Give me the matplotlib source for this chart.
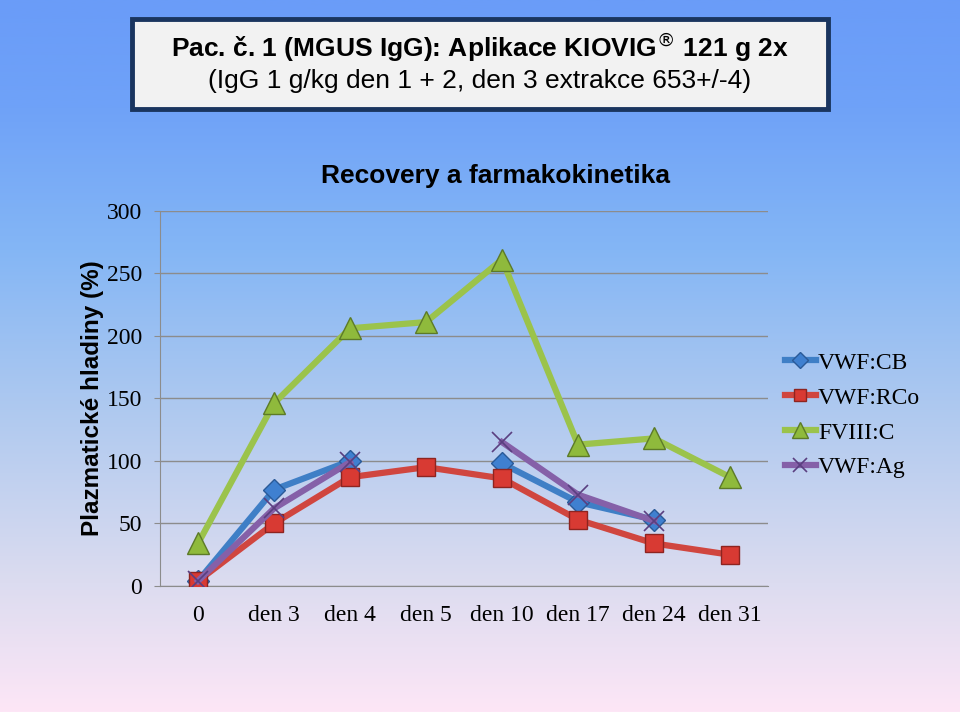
import matplotlib.pyplot as plt
import numpy as np
from matplotlib.colors import LinearSegmentedColormap
from matplotlib.patches import Rectangle

days = ['0', 'den 3', 'den 4', 'den 5', 'den 10', 'den 17', 'den 24', 'den 31']

vwf_cb = [4, 77, 100, None, 98, 67, 53, None]
vwf_rco = [4, 50, 87, 95, 86, 53, 34, 25]
fviii_c = [34, 146, 206, 211, 261, 113, 118, 87]
vwf_ag = [4, 62, 99, None, 115, 73, 52, None]


def to_arr(vals):
    return np.array([np.nan if v is None else v for v in vals], dtype=float)


def draw_chart():
    plt.rcParams['font.family'] = ['Liberation Serif', 'DejaVu Serif']
    fig = plt.figure(figsize=(9.6, 7.12), dpi=100)

    # background gradient
    bg = fig.add_axes([0, 0, 1, 1], zorder=-10)
    cmap = LinearSegmentedColormap.from_list('bg', [
        (0.0, '#6a9cf8'), (0.15, '#6fa2f8'), (0.35, '#84b6f5'),
        (0.6, '#b3cbef'), (0.82, '#dcdcf0'), (1.0, '#fde6f6')])
    grad = np.linspace(0, 1, 256).reshape(-1, 1)
    bg.imshow(grad, aspect='auto', cmap=cmap, extent=[0, 1, 0, 1])
    bg.axis('off')

    # title box
    fig.patches.append(Rectangle((0.137, 0.847), 0.725, 0.127, transform=fig.transFigure,
                                 facecolor='#f2f2f2', edgecolor='#1a355f', linewidth=3.5, zorder=1))
    fig.text(0.5, 0.933, 'Pac. č. 1 (MGUS IgG): Aplikace KIOVIG$^{®}$ 121 g 2x',
             ha='center', va='center', fontsize=19, fontweight='bold', family='Liberation Sans')
    fig.text(0.5, 0.886, '(IgG 1 g/kg den 1 + 2, den 3 extrakce 653+/-4)',
             ha='center', va='center', fontsize=19, family='Liberation Sans')

    ax = fig.add_axes([0.1667, 0.177, 0.6333, 0.527])
    ax.set_facecolor('none')
    x = np.arange(len(days))

    ax.plot(x, to_arr(vwf_cb), color='#3f7fc6', lw=4.5, marker='D', ms=11,
            mfc='#3f80d0', mec='#2a5a98', label='VWF:CB', zorder=3)
    ax.plot(x, to_arr(vwf_rco), color='#d0463f', lw=4.5, marker='s', ms=13,
            mfc='#d83a33', mec='#8e2420', label='VWF:RCo', zorder=3)
    ax.plot(x, to_arr(fviii_c), color='#9bc34b', lw=4.5, marker='^', ms=16,
            mfc='#8fba3c', mec='#5c7a28', label='FVIII:C', zorder=4)
    ax.plot(x, to_arr(vwf_ag), color='#8560a8', lw=4.5, marker='x', ms=14,
            mec='#5a3f80', mew=1.2, label='VWF:Ag', zorder=5)

    ax.set_xlim(-0.5, 7.5)
    ax.set_ylim(0, 300)
    ax.set_yticks(range(0, 301, 50))
    ax.set_xticks(x)
    ax.set_xticklabels(days)
    ax.tick_params(axis='x', length=0, pad=14, labelsize=17)
    ax.tick_params(axis='y', length=4, color='#8c8c8c', pad=9, labelsize=17)
    ax.grid(axis='y', color='#8c8c8c', lw=1)
    ax.set_axisbelow(True)
    for s in ['top', 'right']:
        ax.spines[s].set_visible(False)
    for s in ['left', 'bottom']:
        ax.spines[s].set_color('#8c8c8c')

    ax.set_title('Recovery a farmakokinetika', fontsize=19, fontweight='bold',
                 family='Liberation Sans', x=0.551, pad=20)
    ax.set_ylabel('Plazmatické hladiny (%)', fontsize=17.5, fontweight='bold',
                  family='Liberation Sans', labelpad=2)

    ax.legend(loc='center left', bbox_to_anchor=(1.028, 0.455), frameon=False,
              fontsize=17, handlelength=1.3, handletextpad=0.1, labelspacing=0.57,
              borderaxespad=0, borderpad=0, markerscale=0.7)

    fig.savefig('out.png', dpi=100)


if __name__ == '__main__':
    draw_chart()
